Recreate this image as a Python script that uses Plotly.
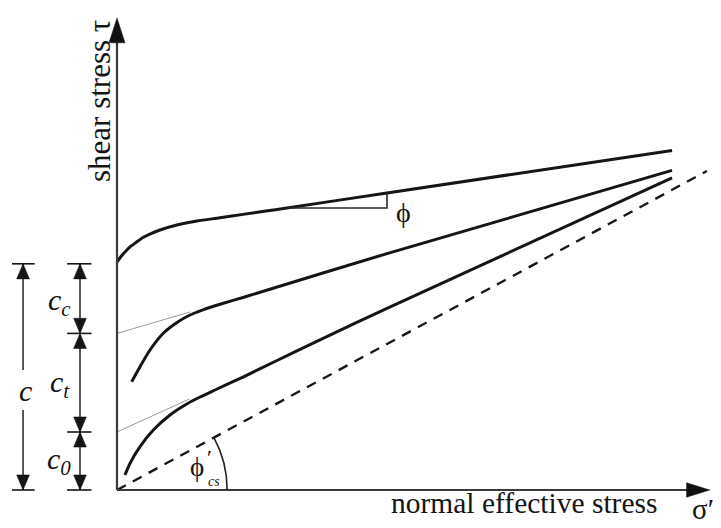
import math
import plotly.graph_objects as go

# Cohesion components (stress units)
c0 = 10.0
ct = 17.0
cc = 12.0
c_total = c0 + ct + cc

# Peak envelope: normal effective stress vs shear stress
peak_sigma = [0.0, 0.69, 1.38, 2.24, 3.28, 4.48, 5.86, 7.41, 10.34, 13.79, 17.76, 21.72, 27.59, 46.55, 95.7]
peak_tau = [39.31, 40.26, 41.03, 41.90, 42.67, 43.53, 44.22, 44.83, 45.69, 46.38, 46.93, 47.52, 48.38, 51.21, 58.55]

# Intermediate envelope
mid_sigma = [2.53, 3.97, 5.69, 7.98, 10.34, 12.59, 14.83, 17.76, 21.72, 46.55, 95.7]
mid_tau = [18.67, 21.26, 24.14, 27.02, 28.88, 30.17, 31.07, 32.02, 33.19, 40.76, 55.1]

# Lower envelope
low_sigma = [1.38, 2.24, 3.97, 6.26, 9.14, 12.02, 14.31, 16.90, 21.72, 27.59, 33.28, 46.55, 95.7]
low_tau = [2.59, 4.60, 7.47, 10.34, 12.93, 14.83, 16.03, 17.24, 19.48, 22.33, 25.07, 31.33, 53.8]

# Critical state line
cs_sigma = [0.0, 101.7]
cs_tau = [0.0, 55.0]

# Straight-line extensions back to the intercepts
mid_tangent_sigma = [0.0, 12.6]
mid_tangent_tau = [27.0, 30.7]
low_tangent_sigma = [0.0, 12.5]
low_tangent_tau = [10.0, 15.7]

# Slope triangle on the peak envelope
phi_tri_sigma = [29.5, 46.55, 46.55]
phi_tri_tau = [48.62, 48.62, 51.2]

# Axis extents
x_axis_end = 102.2
y_axis_end = 81.4

# Scale: 5.8 px per stress unit on both axes
S = 5.8
W, H = 721, 528
X0, Y0 = 117, 490
x_range = [-X0 / S, (W - X0) / S]
y_range = [(Y0 - H) / S, Y0 / S]

INK = "#151515"
AXIS = "#3a3a3a"
SERIF = "Liberation Serif, Times New Roman, serif"

fig = go.Figure()


def curve(xs, ys, width=3.0, color=INK, dash="solid", shape="spline"):
    fig.add_trace(go.Scatter(
        x=xs, y=ys, mode="lines", hoverinfo="skip", showlegend=False,
        line=dict(color=color, width=width, dash=dash, shape=shape, smoothing=0.7),
    ))


curve(peak_sigma, peak_tau)
curve(mid_sigma, mid_tau)
curve(low_sigma, low_tau)
curve(cs_sigma, cs_tau, width=2.3, dash="10px,8px", shape="linear")
curve(mid_tangent_sigma, mid_tangent_tau, width=1.0, color="#9a9a9a", shape="linear")
curve(low_tangent_sigma, low_tangent_tau, width=1.0, color="#9a9a9a", shape="linear")
curve(phi_tri_sigma, phi_tri_tau, width=1.6, color="#2a2a2a", shape="linear")

shapes = []


def seg(x1, y1, x2, y2, width=1.6, color=INK):
    shapes.append(dict(type="line", xref="x", yref="y", x0=x1, y0=y1, x1=x2, y1=y2,
                       line=dict(color=color, width=width)))


def head(tx, ty, dx, dy, length, half, color=INK):
    # filled triangular arrowhead with its tip at (tx, ty) pointing along (dx, dy)
    bx, by = tx - dx * length, ty - dy * length
    px_, py_ = -dy, dx
    path = (f"M {tx},{ty} L {bx + px_ * half},{by + py_ * half} "
            f"L {bx - px_ * half},{by - py_ * half} Z")
    shapes.append(dict(type="path", xref="x", yref="y", path=path,
                       fillcolor=color, line=dict(color=color, width=0.5)))


# Axes with arrowheads
seg(0, 0, 0, y_axis_end - 3.5, width=2.2, color=AXIS)
head(0, y_axis_end, 0, 1, 4.3, 1.38, color="#111")
seg(0, 0, x_axis_end - 3.0, 0, width=2.2, color=AXIS)
head(x_axis_end, 0, 1, 0, 4.0, 1.25, color="#111")

# Arc marking the critical state friction angle
phi_cs = math.atan2(cs_tau[1], cs_sigma[1])
r = 19.0
k = 4.0 / 3.0 * math.tan(phi_cs / 4.0) * r
ex, ey = r * math.cos(phi_cs), r * math.sin(phi_cs)
arc = (f"M {r},0 C {r},{k} {ex + k * math.sin(phi_cs)},{ey - k * math.cos(phi_cs)} {ex},{ey}")
shapes.append(dict(type="path", xref="x", yref="y", path=arc,
                   line=dict(color="#222", width=1.6)))

# Dimension lines for the cohesion components
AH_L, AH_W = 2.6, 1.1
xc, xs = -16.2, -6.38
bar_c = (-18.1, -14.2)
bar_s = (-8.6, -4.4)

for lvl in (0.0, c_total):
    seg(bar_c[0], lvl, bar_c[1], lvl, width=1.6)
seg(xc, 0.0, xc, 13.8, width=1.4)
seg(xc, 20.7, xc, c_total, width=1.4)
head(xc, c_total, 0, 1, AH_L, AH_W)
head(xc, 0.0, 0, -1, AH_L, AH_W)

levels = [0.0, c0, c0 + ct, c_total]
for lvl in levels:
    seg(bar_s[0], lvl, bar_s[1], lvl, width=1.6)
for lo, hi in zip(levels[:-1], levels[1:]):
    seg(xs, lo, xs, hi, width=1.4)
    head(xs, hi, 0, 1, AH_L, AH_W)
    head(xs, lo, 0, -1, AH_L, AH_W)

fig.update_layout(shapes=shapes)


def label(x, y, text, size=28, italic=False, angle=0, xanchor="center", yanchor="middle"):
    fig.add_annotation(
        x=x, y=y, xref="x", yref="y", text=text, showarrow=False,
        textangle=angle, xanchor=xanchor, yanchor=yanchor,
        font=dict(family=SERIF, size=size, color=INK,
                  style="italic" if italic else "normal"),
    )


def px(xp, yp):
    return (xp - X0) / S, (Y0 - yp) / S


label(*px(524, 503), "normal effective stress", size=29.5)
label(*px(703, 509), "σ′", size=29)
label(*px(99, 101), "shear stress τ", size=31, angle=-90)
label(*px(403, 212), "ϕ", size=28)
label(*px(197, 467), "ϕ", size=27)
label(*px(209, 457), "′", size=22)
label(*px(214, 481), "cs", size=14, italic=True)

label(*px(25, 390), "c", size=30, italic=True)
label(*px(59, 302), "c<sub>c</sub>", size=30, italic=True)
label(*px(60, 384), "c<sub>t</sub>", size=30, italic=True)
label(*px(59, 461), "c<sub>0</sub>", size=30, italic=True)

fig.update_layout(
    width=W, height=H, autosize=False,
    margin=dict(l=0, r=0, t=0, b=0),
    paper_bgcolor="white", plot_bgcolor="white",
    xaxis=dict(range=x_range, visible=False, fixedrange=True),
    yaxis=dict(range=y_range, visible=False, fixedrange=True),
    showlegend=False,
)

fig.write_html("out.html")
